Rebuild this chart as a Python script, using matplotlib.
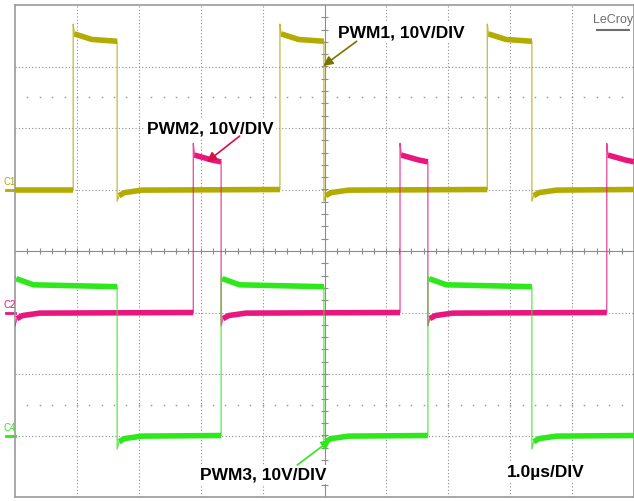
import numpy as np
import matplotlib
matplotlib.use("Agg")
import matplotlib.pyplot as plt

# scope capture, time in us (1 us/div), level in divisions (10 V/div)
c1_rise = [0.94, 4.28, 7.63]
c1_fall = [1.65, 4.99, 8.35]
c1_low, c1_high0, c1_high1, c1_over, c1_under = 1.0, 3.53, 3.41, 3.69, 0.81

c2_rise = [2.88, 6.22, 9.56]
c2_fall = [3.33, 6.67]
c2_low, c2_high0, c2_high1, c2_over, c2_under = -1.0, 1.56, 1.45, 1.75, -1.22

c4_rise = [3.33, 6.67]
c4_fall = [1.65, 4.99, 8.35]
c4_low, c4_high0, c4_high1, c4_over, c4_under = -3.0, -0.45, -0.58, -0.41, -3.22

COL1 = "#b3ab00"
COL2 = "#e8177d"
COL4 = "#2fe81c"


def square(rises, falls, low, high0, high1, over, under, t_end=10.0, settled=False):
    # thin polyline (edges and spikes) plus the flat parts drawn thick
    ev = sorted([(t, 1) for t in rises] + [(t, 0) for t in falls])
    pts = []
    flats = []
    t_prev = 0.0
    state = 1 if ev[0][1] == 0 else 0
    first = True
    for t, kind in ev + [(t_end, None)]:
        if first and settled:
            flat = [(0.0, high1 if state else low), (t, high1 if state else low)]
            pts += flat
        elif state == 1:
            flat = [(t_prev + 0.02, high0), (t_prev + 0.3, high1 + 0.03), (t, high1)]
            pts += [(t_prev, over)] + flat
        else:
            flat = [(t_prev + 0.03, low - 0.1), (t_prev + 0.12, low - 0.05),
                    (t_prev + 0.4, low - 0.01), (t, low)]
            pts += [(t_prev, under)] + flat
        flats.append(np.array([p for p in flat if p[0] <= t]))
        t_prev = t
        state = kind
        first = False
    return np.array(pts), flats


fig = plt.figure(figsize=(6.34, 5.02), dpi=100)
ax = fig.add_axes([15 / 634, 4 / 502, 619 / 634, 492 / 502])
ax.set_xlim(0, 10)
ax.set_ylim(-4, 4)
ax.set_xticks([])
ax.set_yticks([])
for s in ax.spines.values():
    s.set_color("#9a9a9a")
    s.set_linewidth(1.2)

grid_kw = dict(color="#8c8c8c", lw=0.8, linestyle=(0, (1, 2)), zorder=1)
for x in range(1, 10):
    if x != 5:
        ax.axvline(x, **grid_kw)
for y in range(-3, 4):
    if y != 0:
        ax.axhline(y, **grid_kw)
ax.axvline(5, color="#8c8c8c", lw=0.8, zorder=1)
ax.axhline(0, color="#8c8c8c", lw=0.8, zorder=1)
tx = np.arange(0.2, 10, 0.2)
ty = np.arange(-3.8, 4, 0.2)
ax.vlines(tx, -0.05, 0.05, color="#8c8c8c", lw=0.8, zorder=1)
ax.hlines(ty, 4.95, 5.05, color="#8c8c8c", lw=0.8, zorder=1)
for y in (2.5, -2.5):
    ax.plot(tx, np.full_like(tx, y), ls="none", marker="s", ms=1.1,
            mew=0, color="#9c9c9c", zorder=1)

for args, col, name, lab_y, settled in [
    ((c1_rise, c1_fall, c1_low, c1_high0, c1_high1, c1_over, c1_under), COL1, "C1", c1_low, True),
    ((c2_rise, c2_fall, c2_low, c2_high0, c2_high1, c2_over, c2_under), COL2, "C2", c2_low, False),
    ((c4_rise, c4_fall, c4_low, c4_high0, c4_high1, c4_over, c4_under), COL4, "C4", c4_low, False),
]:
    pts, flats = square(*args, settled=settled)
    ax.plot(pts[:, 0], pts[:, 1], color=col, lw=0.9, alpha=0.8, zorder=3)
    for f in flats:
        ax.plot(f[:, 0], f[:, 1], color=col, lw=4.0, solid_capstyle="butt", zorder=3)
    ax.plot([-0.15, 0], [lab_y, lab_y], color=col, lw=2.0, clip_on=False)
    ax.text(-0.19, lab_y + 0.06, name, color=col, fontsize=7, ha="left", va="bottom",
            family="Liberation Sans", clip_on=False)

txt_kw = dict(fontsize=12.5, fontweight="bold", family="Liberation Sans",
              ha="left", va="center", zorder=5,
              bbox=dict(facecolor="white", edgecolor="none", pad=1.5))
ax.text(5.22, 3.56, "PWM1, 10V/DIV", **txt_kw)
ax.text(2.13, 2.0, "PWM2, 10V/DIV", **txt_kw)
ax.text(2.99, -3.63, "PWM3, 10V/DIV", **txt_kw)
ax.text(7.95, -3.58, "1.0\u00b5s/DIV", **txt_kw)

arr = dict(arrowstyle="-|>", lw=1.2, mutation_scale=14, shrinkA=0, shrinkB=0)
ax.annotate("", xy=(4.98, 3.01), xytext=(5.52, 3.41),
            arrowprops=dict(color="#7a7200", **arr), zorder=6)
ax.annotate("", xy=(3.10, 1.45), xytext=(3.63, 1.87),
            arrowprops=dict(color="#d8104a", **arr), zorder=6)
ax.annotate("", xy=(5.10, -3.07), xytext=(4.56, -3.48),
            arrowprops=dict(color=COL4, **arr), zorder=6)

ax.text(9.66, 3.77, "LeCroy", color="#6e6e6e", fontsize=9,
        family="Liberation Sans", ha="center", va="center", zorder=5)
ax.plot([9.40, 9.92], [3.60, 3.60], color="#6e6e6e", lw=1.5, zorder=5)

fig.savefig("out.png", dpi=100)
